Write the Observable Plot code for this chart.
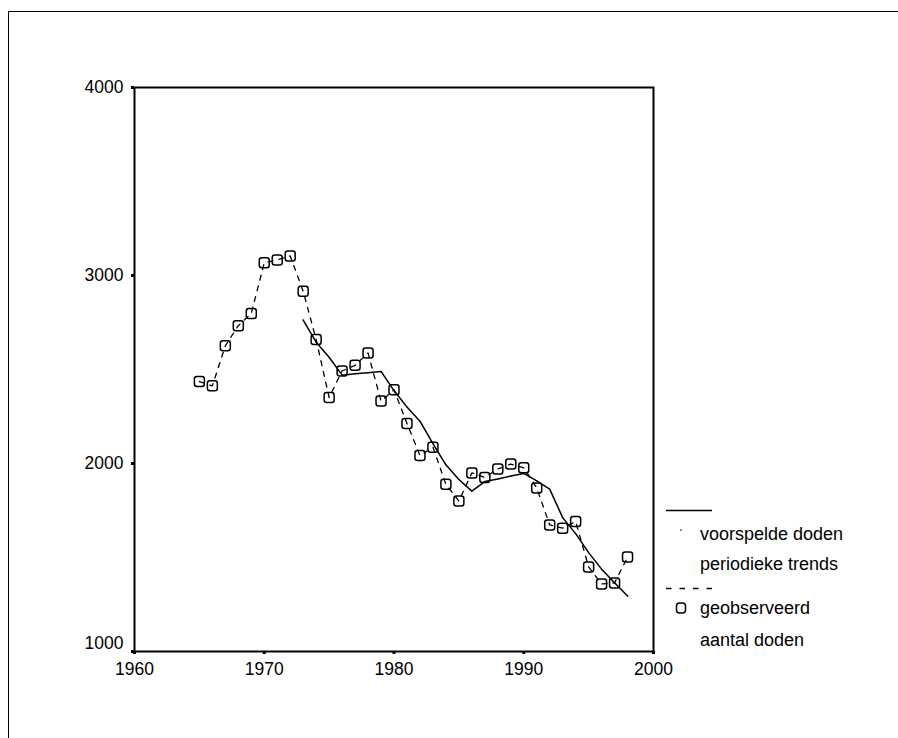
<!DOCTYPE html>
<html>
<head>
<meta charset="utf-8">
<script src="https://cdn.jsdelivr.net/npm/d3@7"></script>
<script src="https://cdn.jsdelivr.net/npm/@observablehq/plot@0.6"></script>
<style>
  html, body { margin: 0; padding: 0; background: #fff; }
  #wrap { position: relative; width: 898px; height: 738px; overflow: hidden; background: #fff; }
  #outer { position: absolute; left: 8px; top: 11px; width: 900px; height: 740px;
           border-left: 1.5px solid #000; border-top: 1.5px solid #000; pointer-events: none; }
  #legend { position: absolute; left: 0; top: 0; pointer-events: none; }
  #legend text { font-family: "Liberation Sans", Arial, sans-serif; font-size: 18px; fill: #000; }
</style>
</head>
<body>
<div id="wrap"></div>
<script>
// ---- data ----
const years = [1965,1966,1967,1968,1969,1970,1971,1972,1973,1974,1975,1976,1977,1978,1979,1980,1981,1982,1983,1984,1985,1986,1987,1988,1989,1990,1991,1992,1993,1994,1995,1996,1997,1998];
const observed = [2436,2413,2626,2733,2798,3068,3083,3104,2916,2660,2351,2492,2522,2588,2332,2392,2213,2042,2087,1889,1800,1950,1926,1971,1997,1977,1870,1673,1656,1691,1450,1359,1365,1502];
const trendYears = [1973,1974,1975,1976,1977,1978,1979,1980,1981,1982,1983,1984,1985,1986,1987,1988,1989,1990,1991,1992,1993,1994,1995,1996,1997,1998];
const trend = [2763,2645,2565,2470,2477,2483,2490,2388,2300,2225,2106,1993,1915,1853,1904,1917,1933,1947,1908,1864,1712,1627,1526,1438,1366,1295];
const xTicks = [1960,1970,1980,1990,2000];
const yTicks = [1000,2000,3000,4000];
const yTicksUpper = [2000,3000,4000];
const yTicksLower = [1000];
const legendLabels = [["voorspelde doden","periodieke trends"],["geobserveerd","aantal doden"]];

const obsData = years.map((y,i) => ({year: y, value: observed[i]}));
const trendData = trendYears.map((y,i) => ({year: y, value: trend[i]}));

// rounded-square symbol
const roundedSquare = {
  draw(ctx, size) {
    const h = Math.sqrt(size / Math.PI);
    const c = h * 0.5;
    ctx.moveTo(-h + c, -h);
    ctx.lineTo(h - c, -h);
    ctx.arcTo(h, -h, h, -h + c, c);
    ctx.lineTo(h, h - c);
    ctx.arcTo(h, h, h - c, h, c);
    ctx.lineTo(-h + c, h);
    ctx.arcTo(-h, h, -h, h - c, c);
    ctx.lineTo(-h, -h + c);
    ctx.arcTo(-h, -h, -h + c, -h, c);
    ctx.closePath();
  }
};

const chart = Plot.plot({
  width: 898,
  height: 738,
  marginLeft: 134,
  marginRight: 245,
  marginTop: 87,
  marginBottom: 87,
  style: {fontFamily: "'Liberation Sans', Arial, sans-serif", fontSize: "17.5px", background: "transparent", color: "#000", overflow: "visible"},
  x: {domain: [1960, 2000]},
  y: {domain: [1000, 4000]},
  marks: [
    Plot.axisX({ticks: xTicks, tickSize: 3, tickPadding: 8, strokeWidth: 3, tickFormat: d => String(d), label: null, fontSize: 17.5}),
    Plot.axisY({ticks: yTicks, tickSize: 3, strokeWidth: 3, text: null, label: null}),
    Plot.axisY({ticks: yTicksUpper, tickSize: 0, tickPadding: 11, tickFormat: d => String(d), label: null, fontSize: 17.5}),
    Plot.axisY({ticks: yTicksLower, tickSize: 0, tickPadding: 11, tickFormat: d => String(d), label: null, fontSize: 17.5, dy: -8}),
    Plot.frame({stroke: "#000", strokeWidth: 2}),
    Plot.dot(obsData, {x: "year", y: "value", symbol: roundedSquare, r: 5, stroke: "#000", strokeWidth: 1.5, fill: "none"}),
    Plot.line(obsData, {x: "year", y: "value", stroke: "#000", strokeWidth: 1.3, strokeDasharray: "5,6"}),
    Plot.line(trendData, {x: "year", y: "value", stroke: "#000", strokeWidth: 1.5}),
    Plot.dot(trendData, {x: "year", y: "value", r: 0.6, fill: "#000", stroke: "none"})
  ]
});
chart.style.position = "absolute";
chart.style.left = "0px";
chart.style.top = "0px";
const wrap = document.getElementById("wrap");
wrap.appendChild(chart);

const outer = document.createElement("div");
outer.id = "outer";
wrap.appendChild(outer);

// legend
const NS = "http://www.w3.org/2000/svg";
const lg = document.createElementNS(NS, "svg");
lg.setAttribute("id", "legend");
lg.setAttribute("width", 898);
lg.setAttribute("height", 738);
lg.innerHTML = `
  <line x1="666" x2="712" y1="510.5" y2="510.5" stroke="#000" stroke-width="1.5"/>
  <circle cx="681" cy="530" r="0.8" fill="#000"/>
  <text x="700" y="540">${legendLabels[0][0]}</text>
  <text x="700" y="570">${legendLabels[0][1]}</text>
  <line x1="666" x2="714" y1="588.5" y2="588.5" stroke="#000" stroke-width="1.5" stroke-dasharray="5.5,8"/>
  <rect x="676.5" y="603" width="9" height="10" rx="3" ry="3" fill="none" stroke="#000" stroke-width="1.5"/>
  <text x="700" y="614">${legendLabels[1][0]}</text>
  <text x="700" y="646">${legendLabels[1][1]}</text>
`;
wrap.appendChild(lg);
</script>
</body>
</html>
